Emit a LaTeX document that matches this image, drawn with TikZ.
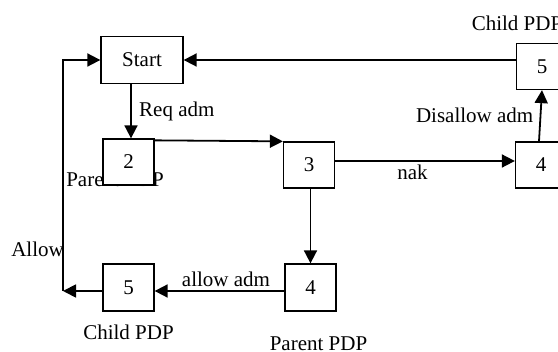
\documentclass[tikz,border=0pt]{standalone}
\usepackage{fontspec}
\setmainfont{Liberation Serif}
\usepackage{tikz}
\usetikzlibrary{arrows.meta, positioning}

\begin{document}
\begin{tikzpicture}[x=1pt, y=-1pt,
    font=\fontsize{21}{24}\selectfont,
    box/.style={draw, fill=white, line width=1.3pt, minimum width=51pt, minimum height=46pt, inner sep=0pt},
    arr/.style={line width=1.8pt, -{Triangle[length=13pt, width=13pt]}},
    wire/.style={line width=1.8pt}]

  \useasboundingbox (0,0) rectangle (558,352);
  \clip (0,0) rectangle (558,352);

  % Labels that sit behind the boxes
  \node (parentA) at (115,180) {Parent PDP};  % hidden partly by box 2

  % States
  \node[box, minimum width=82pt, minimum height=47pt] (start) at (142,60) {Start};
  \node[box] (s2) at (128.5,162) {2};           % parent asks
  \node[box] (s3) at (309,165) {3};             % decision
  \node[box] (s4r) at (541,165) {4};            % refused branch
  \node[box] (s5r) at (542,66.5) {5};           % child told no
  \node[box, minimum height=47pt] (s4b) at (310.5,287.5) {4};  % accepted branch
  \node[box, minimum height=47pt] (s5b) at (128.5,287.5) {5};  % child told yes

  % Side labels
  \node (childA) at (517,23) {Child PDP};
  \node (childB) at (128.5,332) {Child PDP};
  \node (parentB) at (318.5,344) {Parent PDP};
  \coordinate (back) at (63,291);               % corner of the return path

  % Transitions
  \draw[arr] ([xshift=-11pt]start.south) -- node[right, xshift=4pt] {Req adm} ([xshift=2.5pt]s2.north);
  \draw[arr] ([yshift=-2pt]s2.north east) -- (s3.north west);
  \draw[arr] ([yshift=4pt]s3.east) -- node[below, pos=0.43] {nak} ([yshift=4pt]s4r.west);
  \draw[arr] ([xshift=-2pt]s4r.north) -- node[left, xshift=-3pt] {Disallow adm} (s5r.south);
  \draw[arr] (s5r.west |- start.east) -- (start.east);
  \draw[arr] (s3.south -| s4b.north) -- (s4b.north);
  \draw[arr] ([yshift=-3.5pt]s4b.west) -- node[above, pos=0.45] {allow adm} ([yshift=-3.5pt]s5b.east);
  \draw[arr] ([yshift=-3.5pt]s5b.west) -- (back);
  \draw[arr] (back) |- node[pos=0.09, left, xshift=5pt] {Allow} (start.west);

\end{tikzpicture}
\end{document}
